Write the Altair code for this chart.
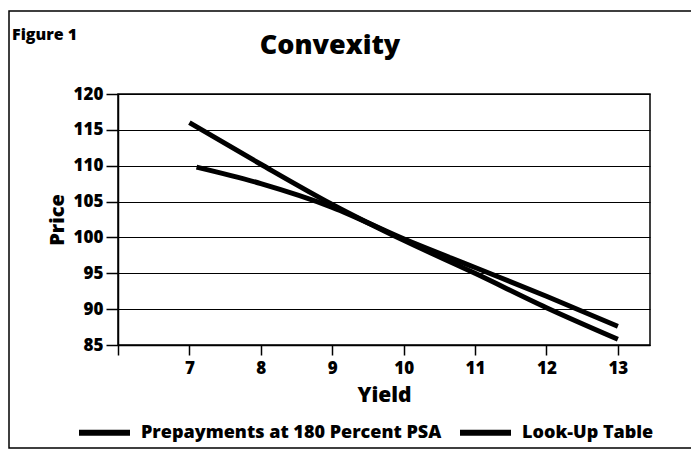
import altair as alt
import pandas as pd

FONT = "Open Sans"

series_names = ["Prepayments at 180 Percent PSA", "Look-Up Table"]
prepay_yield = [7.1, 8, 9, 10, 11, 12, 13]
prepay_price = [109.8, 107.5, 104.2, 99.8, 95.8, 91.8, 87.6]
lookup_yield = [7, 8, 9, 10, 11, 12, 13]
lookup_price = [116.0, 110.2, 104.6, 99.6, 95.0, 90.2, 85.8]

x_ticks = [6, 7, 8, 9, 10, 11, 12, 13]
y_ticks = [85, 90, 95, 100, 105, 110, 115, 120]

rows = []
for xv, yv in zip(prepay_yield, prepay_price):
    rows.append({"series": series_names[0], "Yield": xv, "Price": yv})
for xv, yv in zip(lookup_yield, lookup_price):
    rows.append({"series": series_names[1], "Yield": xv, "Price": yv})
df = pd.DataFrame(rows)

lines = alt.Chart(df).mark_line(strokeWidth=5, interpolate="monotone", strokeCap="butt").encode(
    x=alt.X("Yield:Q",
            scale=alt.Scale(domain=[6, 13.45], nice=False, zero=False),
            axis=alt.Axis(values=x_ticks, labelExpr="datum.value == 6 ? '' : datum.label",
                          grid=False, tickSize=10, labelPadding=5, title="Yield",
                          titlePadding=8, titleFontSize=21)),
    y=alt.Y("Price:Q",
            scale=alt.Scale(domain=[85, 120], nice=False, zero=False),
            axis=alt.Axis(values=y_ticks, grid=True, tickSize=12, labelPadding=3,
                          title="Price", titlePadding=6, titleFontSize=20)),
    color=alt.Color("series:N",
                    scale=alt.Scale(domain=series_names, range=["black", "black"]),
                    legend=alt.Legend(title=None, orient="none", legendX=-42, legendY=310,
                                      direction="horizontal", symbolType="stroke",
                                      symbolSize=2601, symbolStrokeWidth=6,
                                      labelFontSize=18, labelFont=FONT, labelFontWeight=800,
                                      labelOffset=8, columnPadding=6, labelLimit=400)),
    detail="series:N",
)

title_df = pd.DataFrame({"t": ["Convexity"]})
fig_df = pd.DataFrame({"t": ["Figure 1"]})
frame_df = pd.DataFrame({"a": [1]})

title = alt.Chart(title_df).mark_text(fontSize=27, font=FONT, fontWeight=800,
                                      align="center", baseline="alphabetic").encode(
    text="t:N", x=alt.value(212), y=alt.value(-40))
fig = alt.Chart(fig_df).mark_text(fontSize=16, font=FONT, fontWeight=800,
                                  align="left", baseline="alphabetic").encode(
    text="t:N", x=alt.value(-106), y=alt.value(-54))
frame = alt.Chart(frame_df).mark_rect(filled=False, stroke="black", strokeWidth=1.5).encode(
    x=alt.value(-109), x2=alt.value(700), y=alt.value(-83), y2=alt.value(354))

chart = alt.layer(frame, lines, title, fig).properties(
    width=532, height=251,
    padding={"left": 110, "top": 86, "right": 41, "bottom": 104},
    autosize=alt.AutoSizeParams(type="none"),
).configure_axis(
    labelFont=FONT, labelFontWeight=800, labelFontSize=17, labelColor="black",
    titleFont=FONT, titleFontWeight=800, titleColor="black",
    domainColor="black", domainWidth=1.5, tickColor="black", tickWidth=1.5,
    gridColor="black", gridWidth=1, gridOpacity=1,
).configure_view(stroke="black", strokeWidth=1.5)

chart.save("out.html", embed_options={"renderer": "svg", "actions": False})
